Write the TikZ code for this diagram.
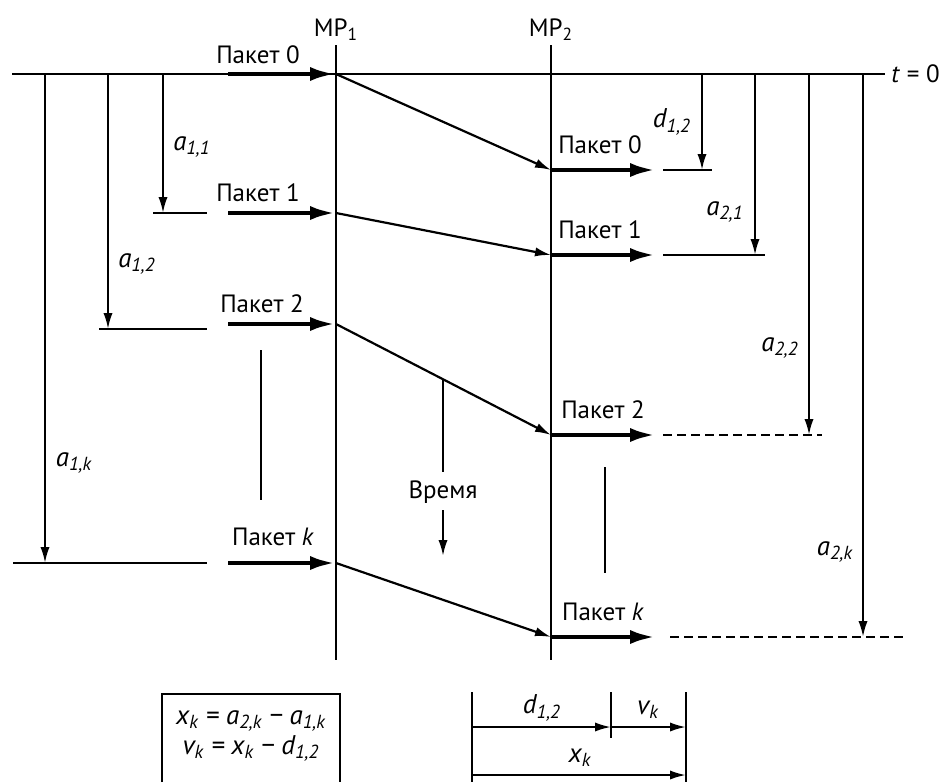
\documentclass[tikz,border=0pt]{standalone}
\usepackage{fontspec}
\setmainfont{PT Sans}
\usepackage{tikz}
\usetikzlibrary{arrows.meta,positioning}
\tikzset{
  wire/.style={draw=black, line width=1.1pt},
  gapline/.style={wire, dash pattern=on 4.5pt off 2.5pt},
  pktarrow/.style={-{Latex[length=13pt,width=7pt]}, draw=black, line width=2.4pt},
  tarrow/.style={-{Latex[length=8pt,width=4.6pt]}, draw=black, line width=1.1pt},
  lbl/.style={font=\fontsize{12.5}{15}\selectfont, inner sep=1pt},
  mlbl/.style={font=\fontsize{13.5}{15}\selectfont\itshape, inner sep=1pt}
}

\begin{document}
\begin{tikzpicture}[x=0.5pt, y=-0.5pt]
  \useasboundingbox (0,0) rectangle (946,782);
  % measuring points
  \coordinate (m1t) at (336,45);  \coordinate (m1b) at (336,660);
  \coordinate (m2t) at (551,45);  \coordinate (m2b) at (551,660);
  \draw[wire] (m1t) -- (m1b);
  \draw[wire] (m2t) -- (m2b);
  \node[lbl, above=1pt of m1t] (mp1) {MP\textsubscript{1}};
  \node[lbl, above=1pt of m2t] (mp2) {MP\textsubscript{2}};
  % t = 0 line
  \coordinate (tl) at (12,74);  \coordinate (tr) at (885,74);
  \draw[wire] (tl) -- (tr);
  \node[lbl, right=2pt of tr] (t0) {\textit{t} = 0};
  % sending at MP1
  \coordinate (s0) at (336,74);  \coordinate (s1) at (336,213);
  \coordinate (s2) at (336,324); \coordinate (sk) at (336,563);
  \coordinate (q0) at (228,74);  \coordinate (q1) at (228,213);
  \coordinate (q2) at (228,324); \coordinate (qk) at (228,563);
  \draw[pktarrow] (q0) -- (s0);
  \draw[pktarrow] (q1) -- (s1);
  \draw[pktarrow] (q2) -- (s2);
  \draw[pktarrow] (qk) -- (sk);
  \node[lbl] (l0) at (258,55) {Пакет 0};
  \node[lbl] (l1) at (258,193) {Пакет 1};
  \node[lbl] (l2) at (262,304) {Пакет 2};
  \node[lbl] (lk) at (273,537) {Пакет \textit{k}};
  % base lines on the left
  \draw[wire] (153,213) -- (207,213);
  \draw[wire] (99,329) -- (207,329);
  \draw[wire] (13,563) -- (207,563);
  \draw[tarrow] (163,74) -- (163,213);
  \draw[tarrow] (108,74) -- (108,329);
  \draw[tarrow] (45,74) -- (45,563);
  \node[mlbl] (a11) at (192,147) {a\textsubscript{1,1}};
  \node[mlbl] (a12) at (137,264) {a\textsubscript{1,2}};
  \node[mlbl] (a1k) at (74,463) {a\textsubscript{1,k}};
  \draw[wire] (261,350) -- (261,500);
  % transit
  \coordinate (r0) at (551,170); \coordinate (r1) at (551,255);
  \coordinate (r2) at (551,435); \coordinate (rk) at (551,637);
  \draw[tarrow] (s0) -- (r0);
  \draw[tarrow] (s1) -- (r1);
  \draw[tarrow] (s2) -- (r2);
  \draw[tarrow] (sk) -- (rk);
  % time
  \node[lbl] (vr) at (443,492) {Время};
  \draw[wire] (443,380) -- (443,472);
  \draw[tarrow] (443,510) -- (443,556);
  % receiving at MP2
  \coordinate (e0) at (656,170); \coordinate (e1) at (656,255);
  \coordinate (e2) at (656,435); \coordinate (ek) at (656,637);
  \draw[pktarrow] (r0) -- (e0);
  \draw[pktarrow] (r1) -- (e1);
  \draw[pktarrow] (r2) -- (e2);
  \draw[pktarrow] (rk) -- (ek);
  \node[lbl] (n0) at (600,145) {Пакет 0};
  \node[lbl] (n1) at (600,230) {Пакет 1};
  \node[lbl] (n2) at (603,410) {Пакет 2};
  \node[lbl] (nk) at (603,612) {Пакет \textit{k}};
  \draw[wire] (663,170) -- (712,170);
  \draw[wire] (663,255) -- (765,255);
  \draw[gapline] (663,435) -- (822,435);
  \draw[gapline] (670,637) -- (907,637);
  \draw[tarrow] (702,74) -- (702,170);
  \draw[tarrow] (755,74) -- (755,255);
  \draw[tarrow] (809,74) -- (809,435);
  \draw[tarrow] (863,74) -- (863,637);
  \node[mlbl] (d12) at (672,122) {d\textsubscript{1,2}};
  \node[mlbl] (a21) at (725,212) {a\textsubscript{2,1}};
  \node[mlbl] (a22) at (780,348) {a\textsubscript{2,2}};
  \node[mlbl] (a2k) at (835,552) {a\textsubscript{2,k}};
  \draw[wire] (605,467) -- (605,573);
  % formulas
  \draw[wire] (162,782) |- (340,694) -- (340,782);
  \node[mlbl, align=center] (eqs) at (251,736) {%
    x\textsubscript{k} = a\textsubscript{2,k} − a\textsubscript{1,k}\\
    v\textsubscript{k} = x\textsubscript{k} − d\textsubscript{1,2}};
  % x_k split
  \coordinate (dl) at (472,692); \coordinate (dm) at (611,692); \coordinate (dr) at (686,692);
  \draw[wire] (dl) -- (472,782);
  \draw[wire] (dm) -- (611,738);
  \draw[wire] (dr) -- (686,782);
  \draw[tarrow] (472,727) -- (611,727);
  \draw[tarrow] (611,727) -- (686,727);
  \draw[tarrow] (472,775) -- (686,775);
  \node[mlbl] (dd) at (542,708) {d\textsubscript{1,2}};
  \node[mlbl] (dv) at (648,710) {v\textsubscript{k}};
  \node[mlbl] (dx) at (580,758) {x\textsubscript{k}};
\end{tikzpicture}
\end{document}
